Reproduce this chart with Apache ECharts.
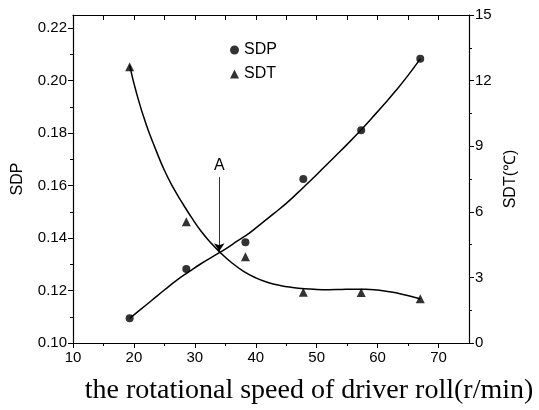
<!DOCTYPE html>
<html>
<head>
<meta charset="utf-8">
<script src="https://cdn.jsdelivr.net/npm/echarts@6/dist/echarts.min.js"></script>
<style>
  html, body { margin: 0; padding: 0; background: #fff; }
  #chart { width: 539px; height: 410px; }
</style>
</head>
<body>
<div id="chart"></div>
<script>
// measured points
var sdpPoints = [[19.3, 0.1094], [28.6, 0.1282], [38.3, 0.1384], [47.8, 0.1625], [57.3, 0.1811], [67.0, 0.2083]];
var sdtPoints = [[19.3, 12.63], [28.6, 5.55], [38.3, 3.94], [47.8, 2.32], [57.3, 2.31], [67.0, 2.02]];

// fitted curves
var sdpFit = [[19.3, 0.1094], [21, 0.1126], [23, 0.1164], [25, 0.1202], [27, 0.1239], [29, 0.1271], [31, 0.1302],
  [33, 0.1330], [35, 0.1358], [37, 0.1389], [39, 0.1420], [41, 0.1457], [43, 0.1494], [45, 0.1532], [47, 0.1575],
  [49, 0.1619], [51, 0.1665], [53, 0.1711], [55, 0.1757], [57, 0.1805], [59, 0.1856], [61, 0.1908], [63, 0.1962],
  [65, 0.2020], [67, 0.2083]];
var sdtFit = [[19.3, 12.70], [20.5, 11.35], [22, 10.0], [23.5, 8.9], [25, 7.9], [26.5, 7.08], [28, 6.38], [29.5, 5.72],
  [31, 5.12], [32.5, 4.62], [34, 4.18], [36, 3.68], [38, 3.28], [40, 2.98], [42, 2.77], [44, 2.63], [46, 2.54],
  [48, 2.48], [50, 2.45], [52, 2.44], [54, 2.45], [56, 2.46], [58, 2.46], [60, 2.42], [62, 2.34], [64, 2.23],
  [66, 2.09], [67, 2.01]];

var xTicks = [10, 20, 30, 40, 50, 60, 70];
var sdpTicks = [0.10, 0.12, 0.14, 0.16, 0.18, 0.20, 0.22];
var arrowA = [[34.0, 0.1632], [34.0, 0.1350]];

var chart = echarts.init(document.getElementById('chart'));
var font = 'Liberation Sans';

var option = {
  animation: false,
  backgroundColor: '#fff',
  grid: { left: 73, right: 70, top: 15, bottom: 66 },
  legend: {
    left: 225, top: 37,
    orient: 'vertical',
    itemWidth: 9, itemHeight: 9, itemGap: 8,
    textStyle: { fontFamily: font, fontSize: 16, color: '#000' },
    data: [{ name: 'SDP', icon: 'circle' }, { name: 'SDT', icon: 'triangle' }]
  },
  xAxis: [{
    type: 'value', min: 10, max: 75, interval: 10,
    name: 'the rotational speed of driver roll(r/min)',
    nameLocation: 'middle', nameGap: 34,
    nameTextStyle: { fontFamily: 'Liberation Serif', fontSize: 28, color: '#000', padding: [0, 0, 0, 76] },
    axisLine: { lineStyle: { color: '#000', width: 1.2 } },
    axisTick: { length: 5, lineStyle: { color: '#000' }, customValues: xTicks },
    minorTick: { show: true, splitNumber: 2, length: 3, lineStyle: { color: '#000' } },
    axisLabel: { fontFamily: font, fontSize: 15, color: '#000', margin: 7, customValues: xTicks },
    splitLine: { show: false }
  }, {
    type: 'value', position: 'top', min: 10, max: 75, interval: 5,
    axisLine: { show: true, lineStyle: { color: '#000', width: 1.2 } },
    axisTick: { inside: true, length: 5, lineStyle: { color: '#000' } },
    axisLabel: { show: false },
    splitLine: { show: false }
  }],
  yAxis: [{
    type: 'value', min: 0.10, max: 0.225, interval: 0.02,
    name: 'SDP', nameLocation: 'middle', nameGap: 47, nameRotate: 90,
    nameTextStyle: { fontFamily: font, fontSize: 16, color: '#000' },
    axisLine: { show: true, lineStyle: { color: '#000', width: 1.2 } },
    axisTick: { length: 5, lineStyle: { color: '#000' }, customValues: sdpTicks },
    minorTick: { show: true, splitNumber: 2, length: 3, lineStyle: { color: '#000' } },
    axisLabel: {
      fontFamily: font, fontSize: 15, color: '#000', margin: 6, customValues: sdpTicks,
      formatter: function (v) { return v.toFixed(2); }
    },
    splitLine: { show: false }
  }, {
    type: 'value', position: 'right', min: 0, max: 15, interval: 3,
    name: 'SDT(℃)', nameLocation: 'middle', nameGap: 31, nameRotate: 90,
    nameTextStyle: { fontFamily: font, fontSize: 16, color: '#000' },
    axisLine: { show: true, lineStyle: { color: '#000', width: 1.2 } },
    axisTick: { length: 5, lineStyle: { color: '#000' } },
    minorTick: { show: true, splitNumber: 2, length: 3, lineStyle: { color: '#000' } },
    axisLabel: { fontFamily: font, fontSize: 15, color: '#000', margin: 6 },
    splitLine: { show: false }
  }],
  series: [{
    name: 'SDP fit', type: 'line', xAxisIndex: 0, yAxisIndex: 0,
    data: sdpFit, smooth: 0.5, showSymbol: false, silent: true,
    lineStyle: { color: '#000', width: 1.5 },
    markLine: {
      silent: true, symbol: ['none', 'arrow'], symbolSize: 8,
      lineStyle: { type: 'solid', color: '#000', width: 0.8 },
      label: { show: true, position: 'start', formatter: 'A', fontFamily: font, fontSize: 16, color: '#000', distance: 4 },
      data: [[{ coord: arrowA[0] }, { coord: arrowA[1] }]]
    }
  }, {
    name: 'SDT fit', type: 'line', xAxisIndex: 0, yAxisIndex: 1,
    data: sdtFit, smooth: 0.5, showSymbol: false, silent: true,
    lineStyle: { color: '#000', width: 1.5 }
  }, {
    name: 'SDP', type: 'scatter', xAxisIndex: 0, yAxisIndex: 0,
    data: sdpPoints, symbol: 'circle', symbolSize: 8,
    itemStyle: { color: '#000' }
  }, {
    name: 'SDT', type: 'scatter', xAxisIndex: 0, yAxisIndex: 1,
    data: sdtPoints, symbol: 'triangle', symbolSize: 9,
    itemStyle: { color: '#000' }
  }]
};

chart.setOption(option);
</script>
</body>
</html>
